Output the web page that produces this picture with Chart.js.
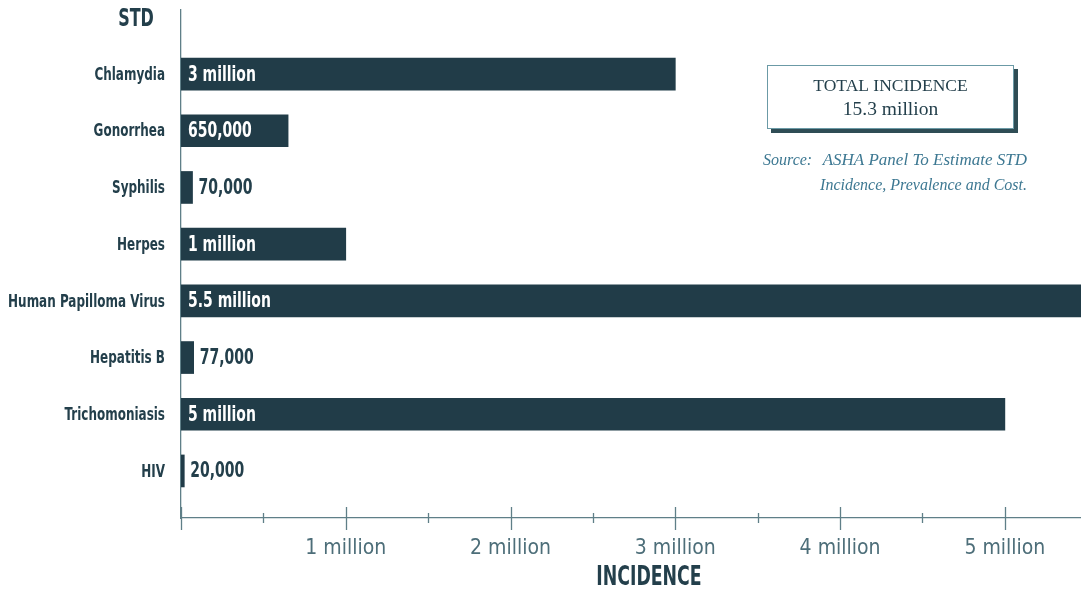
<!DOCTYPE html>
<html>
<head>
<meta charset="utf-8">
<title>STD Incidence</title>
<script src="https://cdn.jsdelivr.net/npm/chart.js@4.4.1/dist/chart.umd.min.js"></script>
<style>
  html, body { margin: 0; padding: 0; background: #fff; }
  canvas { display: block; }
</style>
</head>
<body>
<canvas id="std-chart" width="1081" height="594"></canvas>
<script>
const categories = ['Chlamydia', 'Gonorrhea', 'Syphilis', 'Herpes', 'Human Papilloma Virus', 'Hepatitis B', 'Trichomoniasis', 'HIV'];
const incidence  = [3000000, 650000, 70000, 1000000, 5500000, 77000, 5000000, 20000];
const barLabels  = ['3 million', '650,000', '70,000', '1 million', '5.5 million', '77,000', '5 million', '20,000'];
const tickValues = [1000000, 2000000, 3000000, 4000000, 5000000];
const tickLabels = ['1 million', '2 million', '3 million', '4 million', '5 million'];
const totalLines  = ['TOTAL INCIDENCE', '15.3 million'];
const sourceLabel = 'Source:';
const sourceLines = ['ASHA Panel To Estimate STD', 'Incidence, Prevalence and Cost.'];

const INK     = '#233f4b';
const BAR     = '#213c48';
const AXIS    = '#5f7f88';
const SOURCE  = '#3d7892';
const COND    = "'DejaVu Sans Condensed', 'DejaVu Sans', sans-serif";
const SERIF   = "'Liberation Serif', 'DejaVu Serif', serif";
const SQUEEZE = 0.74;   // the heavy labels are set in a very narrow face

function narrowText(ctx, text, x, y, align) {
  ctx.save();
  ctx.translate(x, y);
  ctx.scale(SQUEEZE, 1);
  ctx.textAlign = align;
  ctx.fillText(text, 0, 0);
  ctx.restore();
}

// ticks, category names, headings, the total box and the bar value labels
const decorations = {
  id: 'decorations',
  afterDraw(chart) {
    const { ctx, chartArea } = chart;
    const xs = chart.scales.x;
    const ys = chart.scales.y;
    const axisY = chartArea.bottom;
    ctx.save();

    // tick marks cross the axis line; whole millions get long ones
    ctx.strokeStyle = AXIS;
    ctx.lineWidth = 1.3;
    xs.ticks.forEach(t => {
      const px = Math.round(xs.getPixelForValue(t.value)) + 0.5;
      const major = t.value % 1000000 === 0;
      ctx.beginPath();
      ctx.moveTo(px, major ? axisY - 11 : axisY - 5);
      ctx.lineTo(px, major ? axisY + 12 : axisY + 5);
      ctx.stroke();
    });

    ctx.textBaseline = 'middle';

    // category names beside the axis
    ctx.fillStyle = INK;
    ctx.font = 'bold 18px ' + COND;
    categories.forEach((c, i) => narrowText(ctx, c, 165, ys.getPixelForValue(i) + 1, 'right'));

    // bar values: inside in white when they fit, else just past the bar end
    const meta = chart.getDatasetMeta(0);
    ctx.font = 'bold 21px ' + COND;
    meta.data.forEach((bar, i) => {
      const len = bar.x - bar.base;
      const w = ctx.measureText(barLabels[i]).width * SQUEEZE;
      if (len > w + 16) {
        ctx.fillStyle = '#ffffff';
        narrowText(ctx, barLabels[i], bar.base + 7, bar.y + 1, 'left');
      } else {
        ctx.fillStyle = INK;
        narrowText(ctx, barLabels[i], bar.x + 6, bar.y + 1, 'left');
      }
    });

    // axis headings
    ctx.fillStyle = INK;
    ctx.font = 'bold 24px ' + COND;
    narrowText(ctx, 'STD', 136, 20, 'center');
    ctx.font = 'bold 26px ' + COND;
    narrowText(ctx, 'INCIDENCE', 649, 578, 'center');

    // total box with a drop shadow
    const bx = 767, by = 65, bw = 247, bh = 64;
    ctx.fillStyle = '#2f4d55';
    ctx.fillRect(bx + 4, by + 4, bw, bh);
    ctx.fillStyle = '#ffffff';
    ctx.fillRect(bx, by, bw, bh);
    ctx.strokeStyle = '#6b9aa6';
    ctx.lineWidth = 1;
    ctx.strokeRect(bx + 0.5, by + 0.5, bw - 1, bh - 1);
    ctx.fillStyle = INK;
    ctx.textAlign = 'center';
    ctx.font = '17.5px ' + SERIF;
    ctx.fillText(totalLines[0], bx + bw / 2, 86);
    ctx.font = '19.5px ' + SERIF;
    ctx.fillText(totalLines[1], bx + bw / 2, 110);

    // source note
    ctx.fillStyle = SOURCE;
    ctx.font = 'italic 16px ' + SERIF;
    ctx.textAlign = 'left';
    ctx.fillText(sourceLabel, 763, 161);
    ctx.textAlign = 'right';
    ctx.fillText(sourceLines[1], 1027, 186);
    ctx.font = 'italic 17px ' + SERIF;
    ctx.fillText(sourceLines[0], 1027, 161);

    ctx.restore();
  }
};

new Chart(document.getElementById('std-chart'), {
  type: 'bar',
  data: {
    datasets: [{
      data: categories.map((c, i) => ({ x: incidence[i], y: i })),
      backgroundColor: BAR,
      borderWidth: 0,
      barThickness: 32,
    }],
  },
  options: {
    indexAxis: 'y',
    responsive: false,
    animation: false,
    events: [],
    layout: { padding: { top: 10, right: 0, bottom: 0, left: 0 } },
    plugins: { legend: { display: false }, tooltip: { enabled: false } },
    scales: {
      x: {
        type: 'linear',
        position: 'bottom',
        min: 0,
        max: 5462000,
        afterBuildTicks: scale => {
          const t = [];
          for (let v = 0; v <= 5000000; v += 500000) t.push({ value: v });
          scale.ticks = t;
        },
        afterFit: scale => { scale.height = 76; scale.paddingLeft = 0; scale.paddingRight = 0; },
        grid: { display: false, drawTicks: false },
        border: { display: true, color: AXIS, width: 1.3 },
        ticks: {
          autoSkip: false,
          maxRotation: 0,
          padding: 18,
          color: '#4d6e79',
          font: { family: COND, size: 21 },
          callback: v => {
            const k = tickValues.indexOf(v);
            return k >= 0 ? tickLabels[k] : '';
          },
        },
      },
      y: {
        type: 'linear',
        reverse: true,
        offset: false,
        min: -1.13,
        max: 7.83,
        afterFit: scale => { scale.width = 181; scale.paddingTop = 0; scale.paddingBottom = 0; },
        grid: { display: false, drawTicks: false },
        border: { display: true, color: AXIS, width: 1.3 },
        ticks: { display: false, stepSize: 1 },
      },
    },
  },
  plugins: [decorations],
});
</script>
</body>
</html>
